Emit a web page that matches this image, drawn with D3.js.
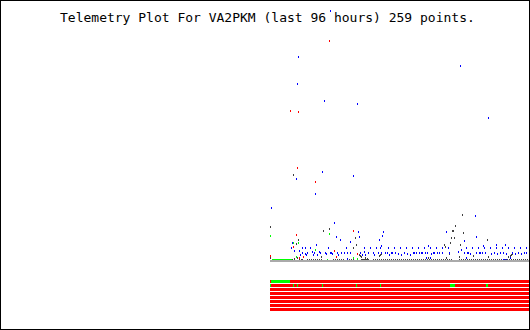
<!DOCTYPE html>
<html><head><meta charset="utf-8">
<script src="https://cdn.jsdelivr.net/npm/d3@7/dist/d3.min.js"></script>
<style>html,body{margin:0;padding:0;background:#fff}svg{display:block}</style>
</head><body>
<script>
const title = "Telemetry Plot For VA2PKM (last 96 hours) 259 points.";
const hoursWindow = [0, 96];
const valueRange = [0, 255];
const dataSpan = [48.91, 96];

// [hours since window start, raw value]
const blueSeries = [
 [59.77,251],[53.98,205],[53.80,178],[58.69,161],[64.66,158],[83.32,196],[88.39,144],
 [58.32,90],[53.61,83],[63.94,86],[57.06,68],[49.09,54],[60.50,39],[86.04,46],
 [64.85,30],[69.37,30],[69.19,26],[80.79,30],[65.03,25],[60.86,25],[86.22,25],
 [68.65,22],[61.58,22],[84.05,21],[63.40,20],[52.89,19],[57.24,17],[69.01,16],
 [52.71,14],[83.50,12],[82.96,10],[77.52,16],[87.49,16],[89.84,17],[91.47,17],
 [54.70,14],[55.25,14],[56.15,14],[59.41,14],[62.67,14],[65.93,14],[67.02,14],[68.11,14],
 [68.83,14],[70.28,14],[71.37,14],[72.45,14],[73.54,14],[74.63,14],[75.71,14],[76.80,14],
 [77.89,14],[78.97,14],[80.06,14],[81.15,14],[84.41,14],[85.49,14],[86.58,14],[87.67,14],
 [88.75,14],[89.84,14],[90.93,14],[92.01,14],[93.10,14],[94.19,14],[95.28,14],
 [53.25,11],[54.16,11],[54.70,9],[55.25,8],[55.61,9],[56.51,10],[56.88,9],[57.78,10],
 [57.96,9],[58.87,9],[59.05,8],[59.77,9],[59.96,9],[60.14,8],[61.04,9],[61.77,9],
 [62.31,9],[62.85,9],[63.40,9],[65.21,9],[65.93,10],[66.66,9],[67.56,9],[68.47,9],
 [69.01,9],[69.74,9],[70.10,9],[70.82,9],[71.00,9],[71.55,9],[72.09,8],[72.63,7],
 [73.18,9],[73.72,8],[74.26,7],[74.81,9],[74.99,9],[75.35,9],[75.89,9],[76.26,9],
 [76.44,9],[76.98,9],[77.34,9],[78.07,8],[78.43,9],[78.61,9],[79.15,9],[79.52,9],
 [80.06,9],[81.33,9],[84.05,9],[84.59,9],[84.77,9],[85.13,8],[86.22,9],[86.76,9],
 [86.94,9],[87.31,9],[87.85,9],[88.94,8],[89.48,9],[90.02,8],[90.57,9],[91.11,9],
 [91.65,8],[92.74,9],[93.28,8],[93.83,9],[94.37,8],[94.91,9],[95.28,9],
 [54.34,7],[55.43,7],[56.69,7],[57.42,7],[61.22,7],[65.57,7],[66.11,7],[67.74,7],[70.46,7],
 [77.16,4],[77.89,4],[84.41,4],[92.38,4],[91.11,2],[91.29,2],[91.65,2],[62.85,3]
];
const redSeries = [
 [59.59,221],[52.53,151],[53.98,150],[53.80,94],[57.06,80],[63.94,31],[53.61,27],
 [53.07,15],[60.50,11],[48.91,6],[64.66,8],[54.16,4],[54.88,5],[60.86,5]
];
const greenSeries = [
 [48.91,26],[59.59,28],[53.07,19],[53.98,19],[57.06,12],[53.61,5],[59.23,2],[63.94,4],[64.66,3],
 [49.27,2],[49.45,2],[49.63,2],[49.81,2],[50.00,2],[50.18,2],[50.36,2],[50.54,2],[50.72,2],
 [50.90,2],[51.08,2],[51.26,2],[51.44,2],[51.63,2],[51.81,2],[51.99,2],[52.17,2],[52.35,2],
 [52.53,2],[52.71,2]
];
const darkSeries = [
 [53.07,87],[48.91,35],[58.51,31],[59.59,33],[53.98,22],[53.61,18],[64.30,24],[64.48,17],
 [63.94,14],[83.68,47],[82.42,36],[81.87,31],[82.05,31],[81.69,24],[82.23,24],[83.86,29],
 [88.21,22],[81.51,19],[83.32,17],[80.42,17],[80.60,15],[81.33,8],[65.03,7],[65.21,6],
 [65.39,5],[68.65,6],[68.83,7],[69.01,8],[48.91,4],[53.80,4],[53.25,3],[66.11,4],[66.48,3],
 [58.14,5],[80.79,4],[83.14,5],[85.68,6],[88.39,5],[92.01,5],[92.38,6],[92.56,7],[92.74,8],[77.52,4],
 [52.71,2],[52.89,2],[53.25,2],[54.16,2],[54.52,2],[54.70,2],[55.61,2],[55.97,2],[56.33,2],
 [56.69,2],[57.06,2],[57.42,2],[57.78,2],[58.14,2],[59.23,2],[60.32,2],[60.68,2],[61.04,2],
 [61.40,2],[61.77,2],[62.13,2],[62.85,2],[63.22,2],[63.58,2],[63.94,2],[65.39,2],[65.57,2],
 [65.75,2],[65.93,2],[66.11,2],[66.29,2],[66.48,2],[66.66,2],[67.56,2],[67.92,2],[68.29,2],
 [68.65,2],[69.01,2],[69.37,2],[69.74,2],[70.10,2],[70.46,2],[70.82,2],[71.18,2],[71.55,2],
 [71.91,2],[72.27,2],[72.63,2],[73.00,2],[73.36,2],[73.72,2],[74.08,2],[74.45,2],[74.81,2],
 [75.17,2],[75.53,2],[75.89,2],[76.26,2],[76.62,2],[76.98,2],[77.34,2],[77.71,2],[78.07,2],
 [78.43,2],[78.79,2],[79.15,2],[79.52,2],[79.88,2],[80.24,2],[80.60,2],[80.97,2],[81.33,2],
 [81.69,2],[83.14,2],[83.50,2],[83.86,2],[84.23,2],[84.59,2],[84.95,2],[85.31,2],[85.68,2],
 [86.04,2],[86.40,2],[86.76,2],[87.12,2],[87.49,2],[87.85,2],[88.21,2],[88.57,2],[88.94,2],
 [89.30,2],[89.66,2],[90.02,2],[90.38,2],[90.75,2],[91.11,2],[91.47,2],[91.83,2],[92.20,2],
 [92.56,2],[92.92,2],[93.28,2],[93.65,2],[94.01,2],[94.37,2],[94.73,2],[95.09,2],[95.46,2],[95.82,2]
];
const bitRows = [0,1,2,3,4,5,6,7];
// spans (hours) where each telemetry bit was on
const bitOnSpans = [
 [[49.09,52.53]],
 [[48.91,49.09],[53.07,53.25],[53.80,53.98],[58.32,58.51],[64.48,64.66],[68.83,69.01],[81.51,82.42],[88.03,88.39]],
 [],[],[],[],[],[]
];

const W = 530, H = 330;
const svg = d3.select("body").append("svg").attr("width", W).attr("height", H)
  .attr("shape-rendering", "crispEdges");
svg.append("rect").attr("width", W).attr("height", H).attr("fill", "#fff");

const x = d3.scaleLinear().domain(hoursWindow).range([0, 530]);
const y = d3.scaleLinear().domain(valueRange).range([261, 6]);
const rowY = d3.scaleBand().domain(bitRows).range([280, 311]).paddingInner(0.25).paddingOuter(0);

svg.append("text").attr("x", 60).attr("y", 22)
  .attr("font-family", "DejaVu Sans Mono, monospace").attr("font-size", 13)
  .attr("fill", "#000").text(title);

function drawSeries(data, color) {
  svg.append("g").selectAll("rect").data(data).join("rect")
    .attr("x", d => Math.round(x(d[0])))
    .attr("y", d => Math.round(y(d[1])))
    .attr("width", 1).attr("height", 2).attr("fill", color);
}
drawSeries(darkSeries, "#404040");
drawSeries(blueSeries, "#0000ff");
drawSeries(redSeries, "#ff0000");
drawSeries(greenSeries, "#00ff00");

// baseline
svg.append("rect")
  .attr("x", Math.round(x(dataSpan[0]))).attr("y", Math.round(y(0)) - 1)
  .attr("width", Math.round(x(dataSpan[1])) - Math.round(x(dataSpan[0]))).attr("height", 2)
  .attr("fill", "#aaaaaa");

// bit stripes
const stripes = svg.append("g");
bitRows.forEach(r => {
  stripes.append("rect")
    .attr("x", Math.round(x(dataSpan[0]))).attr("y", rowY(r))
    .attr("width", Math.round(x(dataSpan[1])) - Math.round(x(dataSpan[0])))
    .attr("height", rowY.bandwidth()).attr("fill", "#ff0000");
  stripes.selectAll(null).data(bitOnSpans[r]).join("rect")
    .attr("x", d => Math.round(x(d[0])))
    .attr("y", rowY(r))
    .attr("width", d => Math.max(1, Math.round(x(d[1])) - Math.round(x(d[0]))))
    .attr("height", rowY.bandwidth()).attr("fill", "#00ff00");
});

// frame
svg.append("rect").attr("x", 0.5).attr("y", 0.5).attr("width", W - 1).attr("height", H - 1)
  .attr("fill", "none").attr("stroke", "#000").attr("stroke-width", 1);
</script>
</body></html>
